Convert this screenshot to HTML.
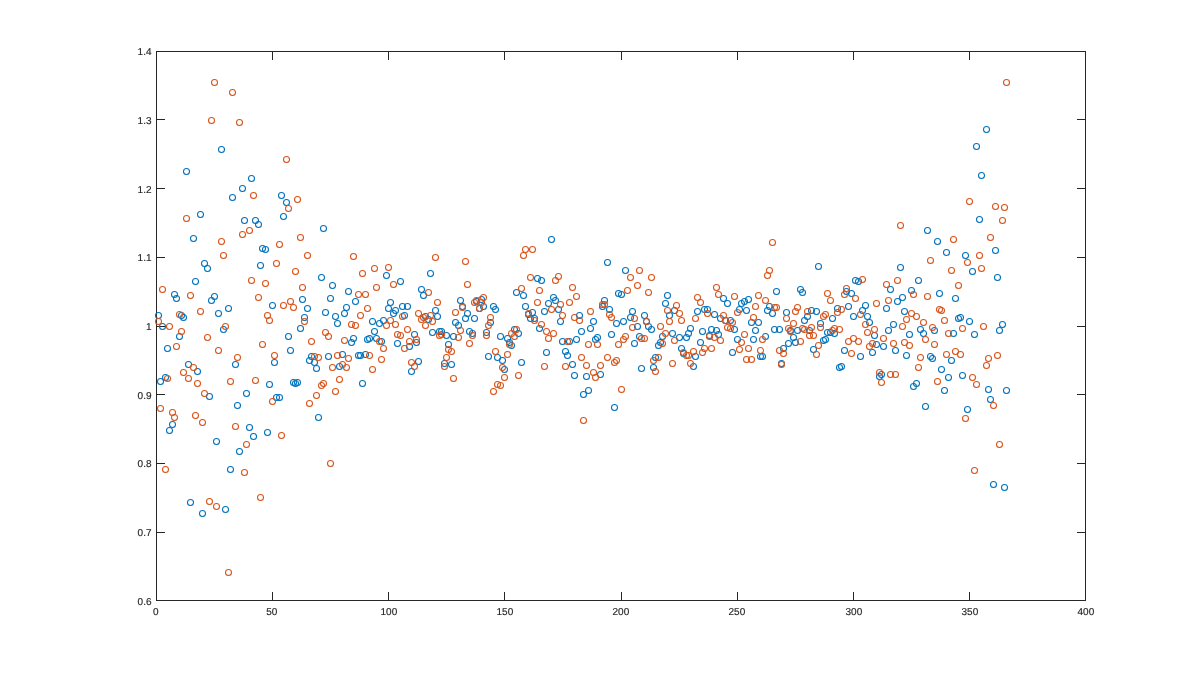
<!DOCTYPE html>
<html><head><meta charset="utf-8"><title>scatter</title>
<style>
html,body{margin:0;padding:0;background:#fff;}
body{width:1200px;height:675px;overflow:hidden;font-family:"Liberation Sans",sans-serif;}
svg{display:block}
.ax{stroke:#262626;stroke-width:1;fill:none;shape-rendering:crispEdges}
.t{font-family:"Liberation Sans",sans-serif;font-size:10px;fill:#262626;stroke:#262626;stroke-width:0.15px;text-rendering:geometricPrecision}
.b{stroke:#0072BD;stroke-width:1.05;fill:none}
.o{stroke:#D95319;stroke-width:1.05;fill:none}
</style></head><body>
<svg width="1200" height="675" viewBox="0 0 1200 675">
<rect x="0" y="0" width="1200" height="675" fill="#fff"/>
<rect class="ax" x="156.5" y="51.5" width="929" height="549"/>
<text class="t" transform="translate(155.7,615)" text-anchor="middle">0</text>
<text class="t" transform="translate(271.7,615)" text-anchor="middle">50</text>
<text class="t" transform="translate(388.9,615)" text-anchor="middle">100</text>
<text class="t" transform="translate(504.9,615)" text-anchor="middle">150</text>
<text class="t" transform="translate(620.9,615)" text-anchor="middle">200</text>
<text class="t" transform="translate(736.9,615)" text-anchor="middle">250</text>
<text class="t" transform="translate(853.9,615)" text-anchor="middle">300</text>
<text class="t" transform="translate(969.9,615)" text-anchor="middle">350</text>
<text class="t" transform="translate(1085.9,615)" text-anchor="middle">400</text>
<text class="t" transform="translate(151.5,605.0)" text-anchor="end">0.6</text>
<text class="t" transform="translate(151.5,536.0)" text-anchor="end">0.7</text>
<text class="t" transform="translate(151.5,467.0)" text-anchor="end">0.8</text>
<text class="t" transform="translate(151.5,399.0)" text-anchor="end">0.9</text>
<text class="t" transform="translate(151.5,330.0)" text-anchor="end">1</text>
<text class="t" transform="translate(151.5,261.0)" text-anchor="end">1.1</text>
<text class="t" transform="translate(151.5,193.0)" text-anchor="end">1.2</text>
<text class="t" transform="translate(151.5,124.0)" text-anchor="end">1.3</text>
<text class="t" transform="translate(151.5,55.0)" text-anchor="end">1.4</text>
<path class="ax" d="M272.5 600.5v-8.5M272.5 51.5v8.5M388.5 600.5v-8.5M388.5 51.5v8.5M504.5 600.5v-8.5M504.5 51.5v8.5M621.5 600.5v-8.5M621.5 51.5v8.5M737.5 600.5v-8.5M737.5 51.5v8.5M853.5 600.5v-8.5M853.5 51.5v8.5M969.5 600.5v-8.5M969.5 51.5v8.5M156.5 532.5h8.5M1085.5 532.5h-8.5M156.5 463.5h8.5M1085.5 463.5h-8.5M156.5 394.5h8.5M1085.5 394.5h-8.5M156.5 326.5h8.5M1085.5 326.5h-8.5M156.5 257.5h8.5M1085.5 257.5h-8.5M156.5 188.5h8.5M1085.5 188.5h-8.5M156.5 119.5h8.5M1085.5 119.5h-8.5"/>
<g class="b">
<circle cx="221.50" cy="149.5" r="3.0"/><circle cx="186.50" cy="171.5" r="3.0"/><circle cx="251.50" cy="178.5" r="3.0"/><circle cx="242.50" cy="188.5" r="3.0"/><circle cx="232.50" cy="197.5" r="3.0"/><circle cx="281.50" cy="195.5" r="3.0"/><circle cx="286.50" cy="202.5" r="3.0"/><circle cx="200.50" cy="214.5" r="3.0"/><circle cx="283.50" cy="216.5" r="3.0"/><circle cx="244.50" cy="220.5" r="3.0"/><circle cx="255.50" cy="220.5" r="3.0"/><circle cx="258.50" cy="224.5" r="3.0"/><circle cx="193.50" cy="238.5" r="3.0"/><circle cx="262.50" cy="248.5" r="3.0"/><circle cx="265.50" cy="249.5" r="3.0"/><circle cx="204.50" cy="263.5" r="3.0"/><circle cx="207.50" cy="268.5" r="3.0"/><circle cx="260.50" cy="265.5" r="3.0"/><circle cx="195.50" cy="281.5" r="3.0"/><circle cx="174.50" cy="294.5" r="3.0"/><circle cx="176.50" cy="298.5" r="3.0"/><circle cx="214.50" cy="296.5" r="3.0"/><circle cx="211.50" cy="300.5" r="3.0"/><circle cx="228.50" cy="308.5" r="3.0"/><circle cx="218.50" cy="313.5" r="3.0"/><circle cx="181.50" cy="315.5" r="3.0"/><circle cx="183.50" cy="317.5" r="3.0"/><circle cx="158.50" cy="315.5" r="3.0"/><circle cx="162.50" cy="326.5" r="3.0"/><circle cx="179.50" cy="336.5" r="3.0"/><circle cx="223.50" cy="329.5" r="3.0"/><circle cx="272.50" cy="305.5" r="3.0"/><circle cx="302.50" cy="299.5" r="3.0"/><circle cx="307.50" cy="308.5" r="3.0"/><circle cx="304.50" cy="317.5" r="3.0"/><circle cx="300.50" cy="328.5" r="3.0"/><circle cx="288.50" cy="336.5" r="3.0"/><circle cx="167.50" cy="348.5" r="3.0"/><circle cx="235.50" cy="364.5" r="3.0"/><circle cx="274.50" cy="362.5" r="3.0"/><circle cx="290.50" cy="350.5" r="3.0"/><circle cx="188.50" cy="364.5" r="3.0"/><circle cx="197.50" cy="371.5" r="3.0"/><circle cx="165.50" cy="377.5" r="3.0"/><circle cx="160.50" cy="381.5" r="3.0"/><circle cx="269.50" cy="384.5" r="3.0"/><circle cx="293.50" cy="382.5" r="3.0"/><circle cx="295.50" cy="383.5" r="3.0"/><circle cx="297.50" cy="382.5" r="3.0"/><circle cx="209.50" cy="396.5" r="3.0"/><circle cx="246.50" cy="393.5" r="3.0"/><circle cx="276.50" cy="397.5" r="3.0"/><circle cx="279.50" cy="397.5" r="3.0"/><circle cx="237.50" cy="405.5" r="3.0"/><circle cx="172.50" cy="424.5" r="3.0"/><circle cx="169.50" cy="430.5" r="3.0"/><circle cx="249.50" cy="427.5" r="3.0"/><circle cx="267.50" cy="432.5" r="3.0"/><circle cx="253.50" cy="436.5" r="3.0"/><circle cx="216.50" cy="441.5" r="3.0"/><circle cx="239.50" cy="451.5" r="3.0"/><circle cx="230.50" cy="469.5" r="3.0"/><circle cx="190.50" cy="502.5" r="3.0"/><circle cx="225.50" cy="509.5" r="3.0"/><circle cx="202.50" cy="513.5" r="3.0"/><circle cx="323.50" cy="228.5" r="3.0"/><circle cx="386.50" cy="275.5" r="3.0"/><circle cx="430.50" cy="273.5" r="3.0"/><circle cx="321.50" cy="277.5" r="3.0"/><circle cx="400.50" cy="281.5" r="3.0"/><circle cx="332.50" cy="285.5" r="3.0"/><circle cx="348.50" cy="291.5" r="3.0"/><circle cx="421.50" cy="289.5" r="3.0"/><circle cx="423.50" cy="295.5" r="3.0"/><circle cx="330.50" cy="298.5" r="3.0"/><circle cx="355.50" cy="301.5" r="3.0"/><circle cx="390.50" cy="302.5" r="3.0"/><circle cx="325.50" cy="312.5" r="3.0"/><circle cx="346.50" cy="307.5" r="3.0"/><circle cx="344.50" cy="313.5" r="3.0"/><circle cx="388.50" cy="308.5" r="3.0"/><circle cx="395.50" cy="310.5" r="3.0"/><circle cx="393.50" cy="313.5" r="3.0"/><circle cx="402.50" cy="306.5" r="3.0"/><circle cx="407.50" cy="306.5" r="3.0"/><circle cx="404.50" cy="315.5" r="3.0"/><circle cx="435.50" cy="310.5" r="3.0"/><circle cx="437.50" cy="316.5" r="3.0"/><circle cx="335.50" cy="316.5" r="3.0"/><circle cx="337.50" cy="323.5" r="3.0"/><circle cx="372.50" cy="321.5" r="3.0"/><circle cx="379.50" cy="323.5" r="3.0"/><circle cx="383.50" cy="320.5" r="3.0"/><circle cx="425.50" cy="316.5" r="3.0"/><circle cx="428.50" cy="319.5" r="3.0"/><circle cx="455.50" cy="322.5" r="3.0"/><circle cx="458.50" cy="325.5" r="3.0"/><circle cx="353.50" cy="338.5" r="3.0"/><circle cx="351.50" cy="342.5" r="3.0"/><circle cx="374.50" cy="331.5" r="3.0"/><circle cx="367.50" cy="339.5" r="3.0"/><circle cx="369.50" cy="338.5" r="3.0"/><circle cx="376.50" cy="338.5" r="3.0"/><circle cx="381.50" cy="341.5" r="3.0"/><circle cx="414.50" cy="334.5" r="3.0"/><circle cx="416.50" cy="342.5" r="3.0"/><circle cx="397.50" cy="343.5" r="3.0"/><circle cx="409.50" cy="346.5" r="3.0"/><circle cx="432.50" cy="332.5" r="3.0"/><circle cx="439.50" cy="331.5" r="3.0"/><circle cx="441.50" cy="331.5" r="3.0"/><circle cx="446.50" cy="335.5" r="3.0"/><circle cx="453.50" cy="336.5" r="3.0"/><circle cx="448.50" cy="344.5" r="3.0"/><circle cx="311.50" cy="356.5" r="3.0"/><circle cx="309.50" cy="360.5" r="3.0"/><circle cx="314.50" cy="362.5" r="3.0"/><circle cx="316.50" cy="368.5" r="3.0"/><circle cx="328.50" cy="356.5" r="3.0"/><circle cx="342.50" cy="354.5" r="3.0"/><circle cx="339.50" cy="366.5" r="3.0"/><circle cx="358.50" cy="355.5" r="3.0"/><circle cx="360.50" cy="355.5" r="3.0"/><circle cx="365.50" cy="354.5" r="3.0"/><circle cx="418.50" cy="361.5" r="3.0"/><circle cx="411.50" cy="371.5" r="3.0"/><circle cx="444.50" cy="363.5" r="3.0"/><circle cx="451.50" cy="364.5" r="3.0"/><circle cx="362.50" cy="383.5" r="3.0"/><circle cx="318.50" cy="417.5" r="3.0"/><circle cx="551.50" cy="239.5" r="3.0"/><circle cx="607.50" cy="262.5" r="3.0"/><circle cx="537.50" cy="278.5" r="3.0"/><circle cx="541.50" cy="280.5" r="3.0"/><circle cx="516.50" cy="292.5" r="3.0"/><circle cx="523.50" cy="295.5" r="3.0"/><circle cx="553.50" cy="297.5" r="3.0"/><circle cx="460.50" cy="300.5" r="3.0"/><circle cx="462.50" cy="306.5" r="3.0"/><circle cx="467.50" cy="313.5" r="3.0"/><circle cx="465.50" cy="318.5" r="3.0"/><circle cx="474.50" cy="318.5" r="3.0"/><circle cx="469.50" cy="331.5" r="3.0"/><circle cx="472.50" cy="333.5" r="3.0"/><circle cx="490.50" cy="322.5" r="3.0"/><circle cx="486.50" cy="332.5" r="3.0"/><circle cx="500.50" cy="336.5" r="3.0"/><circle cx="507.50" cy="338.5" r="3.0"/><circle cx="514.50" cy="329.5" r="3.0"/><circle cx="518.50" cy="333.5" r="3.0"/><circle cx="525.50" cy="306.5" r="3.0"/><circle cx="528.50" cy="314.5" r="3.0"/><circle cx="532.50" cy="312.5" r="3.0"/><circle cx="530.50" cy="318.5" r="3.0"/><circle cx="534.50" cy="318.5" r="3.0"/><circle cx="539.50" cy="328.5" r="3.0"/><circle cx="479.50" cy="308.5" r="3.0"/><circle cx="483.50" cy="306.5" r="3.0"/><circle cx="476.50" cy="301.5" r="3.0"/><circle cx="481.50" cy="299.5" r="3.0"/><circle cx="493.50" cy="306.5" r="3.0"/><circle cx="495.50" cy="309.5" r="3.0"/><circle cx="555.50" cy="300.5" r="3.0"/><circle cx="548.50" cy="303.5" r="3.0"/><circle cx="544.50" cy="311.5" r="3.0"/><circle cx="558.50" cy="309.5" r="3.0"/><circle cx="560.50" cy="321.5" r="3.0"/><circle cx="579.50" cy="315.5" r="3.0"/><circle cx="593.50" cy="321.5" r="3.0"/><circle cx="590.50" cy="328.5" r="3.0"/><circle cx="581.50" cy="331.5" r="3.0"/><circle cx="604.50" cy="300.5" r="3.0"/><circle cx="602.50" cy="306.5" r="3.0"/><circle cx="609.50" cy="309.5" r="3.0"/><circle cx="611.50" cy="334.5" r="3.0"/><circle cx="562.50" cy="341.5" r="3.0"/><circle cx="569.50" cy="341.5" r="3.0"/><circle cx="576.50" cy="339.5" r="3.0"/><circle cx="597.50" cy="337.5" r="3.0"/><circle cx="595.50" cy="339.5" r="3.0"/><circle cx="488.50" cy="356.5" r="3.0"/><circle cx="497.50" cy="357.5" r="3.0"/><circle cx="502.50" cy="360.5" r="3.0"/><circle cx="504.50" cy="369.5" r="3.0"/><circle cx="521.50" cy="362.5" r="3.0"/><circle cx="509.50" cy="342.5" r="3.0"/><circle cx="511.50" cy="345.5" r="3.0"/><circle cx="546.50" cy="352.5" r="3.0"/><circle cx="565.50" cy="351.5" r="3.0"/><circle cx="567.50" cy="355.5" r="3.0"/><circle cx="572.50" cy="364.5" r="3.0"/><circle cx="574.50" cy="375.5" r="3.0"/><circle cx="586.50" cy="376.5" r="3.0"/><circle cx="600.50" cy="374.5" r="3.0"/><circle cx="588.50" cy="390.5" r="3.0"/><circle cx="583.50" cy="394.5" r="3.0"/><circle cx="625.50" cy="270.5" r="3.0"/><circle cx="618.50" cy="293.5" r="3.0"/><circle cx="621.50" cy="294.5" r="3.0"/><circle cx="667.50" cy="295.5" r="3.0"/><circle cx="723.50" cy="298.5" r="3.0"/><circle cx="748.50" cy="299.5" r="3.0"/><circle cx="727.50" cy="303.5" r="3.0"/><circle cx="744.50" cy="301.5" r="3.0"/><circle cx="741.50" cy="303.5" r="3.0"/><circle cx="665.50" cy="303.5" r="3.0"/><circle cx="674.50" cy="310.5" r="3.0"/><circle cx="669.50" cy="315.5" r="3.0"/><circle cx="632.50" cy="311.5" r="3.0"/><circle cx="630.50" cy="317.5" r="3.0"/><circle cx="623.50" cy="321.5" r="3.0"/><circle cx="616.50" cy="323.5" r="3.0"/><circle cx="644.50" cy="315.5" r="3.0"/><circle cx="646.50" cy="321.5" r="3.0"/><circle cx="648.50" cy="326.5" r="3.0"/><circle cx="651.50" cy="329.5" r="3.0"/><circle cx="637.50" cy="326.5" r="3.0"/><circle cx="697.50" cy="311.5" r="3.0"/><circle cx="704.50" cy="309.5" r="3.0"/><circle cx="707.50" cy="309.5" r="3.0"/><circle cx="714.50" cy="314.5" r="3.0"/><circle cx="720.50" cy="318.5" r="3.0"/><circle cx="725.50" cy="320.5" r="3.0"/><circle cx="730.50" cy="320.5" r="3.0"/><circle cx="739.50" cy="309.5" r="3.0"/><circle cx="746.50" cy="310.5" r="3.0"/><circle cx="751.50" cy="322.5" r="3.0"/><circle cx="758.50" cy="322.5" r="3.0"/><circle cx="639.50" cy="336.5" r="3.0"/><circle cx="634.50" cy="343.5" r="3.0"/><circle cx="662.50" cy="336.5" r="3.0"/><circle cx="672.50" cy="333.5" r="3.0"/><circle cx="679.50" cy="337.5" r="3.0"/><circle cx="660.50" cy="342.5" r="3.0"/><circle cx="658.50" cy="345.5" r="3.0"/><circle cx="690.50" cy="328.5" r="3.0"/><circle cx="688.50" cy="333.5" r="3.0"/><circle cx="686.50" cy="337.5" r="3.0"/><circle cx="702.50" cy="331.5" r="3.0"/><circle cx="700.50" cy="342.5" r="3.0"/><circle cx="711.50" cy="329.5" r="3.0"/><circle cx="716.50" cy="330.5" r="3.0"/><circle cx="718.50" cy="334.5" r="3.0"/><circle cx="709.50" cy="335.5" r="3.0"/><circle cx="734.50" cy="329.5" r="3.0"/><circle cx="737.50" cy="339.5" r="3.0"/><circle cx="755.50" cy="330.5" r="3.0"/><circle cx="753.50" cy="339.5" r="3.0"/><circle cx="655.50" cy="357.5" r="3.0"/><circle cx="653.50" cy="367.5" r="3.0"/><circle cx="641.50" cy="368.5" r="3.0"/><circle cx="681.50" cy="348.5" r="3.0"/><circle cx="683.50" cy="353.5" r="3.0"/><circle cx="695.50" cy="356.5" r="3.0"/><circle cx="693.50" cy="366.5" r="3.0"/><circle cx="732.50" cy="352.5" r="3.0"/><circle cx="760.50" cy="356.5" r="3.0"/><circle cx="762.50" cy="356.5" r="3.0"/><circle cx="614.50" cy="407.5" r="3.0"/><circle cx="818.50" cy="266.5" r="3.0"/><circle cx="900.50" cy="267.5" r="3.0"/><circle cx="776.50" cy="291.5" r="3.0"/><circle cx="800.50" cy="289.5" r="3.0"/><circle cx="802.50" cy="292.5" r="3.0"/><circle cx="855.50" cy="280.5" r="3.0"/><circle cx="858.50" cy="281.5" r="3.0"/><circle cx="846.50" cy="291.5" r="3.0"/><circle cx="851.50" cy="293.5" r="3.0"/><circle cx="890.50" cy="289.5" r="3.0"/><circle cx="911.50" cy="290.5" r="3.0"/><circle cx="902.50" cy="297.5" r="3.0"/><circle cx="897.50" cy="301.5" r="3.0"/><circle cx="769.50" cy="306.5" r="3.0"/><circle cx="767.50" cy="310.5" r="3.0"/><circle cx="772.50" cy="313.5" r="3.0"/><circle cx="786.50" cy="312.5" r="3.0"/><circle cx="811.50" cy="310.5" r="3.0"/><circle cx="816.50" cy="311.5" r="3.0"/><circle cx="807.50" cy="316.5" r="3.0"/><circle cx="804.50" cy="320.5" r="3.0"/><circle cx="832.50" cy="318.5" r="3.0"/><circle cx="820.50" cy="323.5" r="3.0"/><circle cx="837.50" cy="308.5" r="3.0"/><circle cx="848.50" cy="306.5" r="3.0"/><circle cx="853.50" cy="316.5" r="3.0"/><circle cx="865.50" cy="305.5" r="3.0"/><circle cx="862.50" cy="310.5" r="3.0"/><circle cx="867.50" cy="316.5" r="3.0"/><circle cx="869.50" cy="322.5" r="3.0"/><circle cx="886.50" cy="308.5" r="3.0"/><circle cx="904.50" cy="311.5" r="3.0"/><circle cx="893.50" cy="324.5" r="3.0"/><circle cx="774.50" cy="329.5" r="3.0"/><circle cx="779.50" cy="329.5" r="3.0"/><circle cx="790.50" cy="330.5" r="3.0"/><circle cx="797.50" cy="330.5" r="3.0"/><circle cx="793.50" cy="337.5" r="3.0"/><circle cx="795.50" cy="342.5" r="3.0"/><circle cx="788.50" cy="343.5" r="3.0"/><circle cx="809.50" cy="330.5" r="3.0"/><circle cx="827.50" cy="332.5" r="3.0"/><circle cx="830.50" cy="332.5" r="3.0"/><circle cx="834.50" cy="333.5" r="3.0"/><circle cx="823.50" cy="340.5" r="3.0"/><circle cx="825.50" cy="339.5" r="3.0"/><circle cx="765.50" cy="336.5" r="3.0"/><circle cx="874.50" cy="335.5" r="3.0"/><circle cx="888.50" cy="330.5" r="3.0"/><circle cx="909.50" cy="334.5" r="3.0"/><circle cx="876.50" cy="344.5" r="3.0"/><circle cx="883.50" cy="346.5" r="3.0"/><circle cx="783.50" cy="348.5" r="3.0"/><circle cx="781.50" cy="363.5" r="3.0"/><circle cx="813.50" cy="349.5" r="3.0"/><circle cx="844.50" cy="350.5" r="3.0"/><circle cx="860.50" cy="356.5" r="3.0"/><circle cx="872.50" cy="352.5" r="3.0"/><circle cx="895.50" cy="350.5" r="3.0"/><circle cx="906.50" cy="355.5" r="3.0"/><circle cx="839.50" cy="367.5" r="3.0"/><circle cx="841.50" cy="366.5" r="3.0"/><circle cx="881.50" cy="374.5" r="3.0"/><circle cx="879.50" cy="376.5" r="3.0"/><circle cx="986.50" cy="129.5" r="3.0"/><circle cx="976.50" cy="146.5" r="3.0"/><circle cx="981.50" cy="175.5" r="3.0"/><circle cx="979.50" cy="219.5" r="3.0"/><circle cx="927.50" cy="230.5" r="3.0"/><circle cx="937.50" cy="241.5" r="3.0"/><circle cx="946.50" cy="252.5" r="3.0"/><circle cx="965.50" cy="255.5" r="3.0"/><circle cx="995.50" cy="250.5" r="3.0"/><circle cx="972.50" cy="271.5" r="3.0"/><circle cx="997.50" cy="277.5" r="3.0"/><circle cx="918.50" cy="280.5" r="3.0"/><circle cx="939.50" cy="293.5" r="3.0"/><circle cx="955.50" cy="298.5" r="3.0"/><circle cx="958.50" cy="318.5" r="3.0"/><circle cx="960.50" cy="317.5" r="3.0"/><circle cx="969.50" cy="321.5" r="3.0"/><circle cx="934.50" cy="330.5" r="3.0"/><circle cx="920.50" cy="329.5" r="3.0"/><circle cx="923.50" cy="333.5" r="3.0"/><circle cx="953.50" cy="333.5" r="3.0"/><circle cx="1002.50" cy="324.5" r="3.0"/><circle cx="999.50" cy="330.5" r="3.0"/><circle cx="974.50" cy="334.5" r="3.0"/><circle cx="930.50" cy="356.5" r="3.0"/><circle cx="932.50" cy="358.5" r="3.0"/><circle cx="951.50" cy="360.5" r="3.0"/><circle cx="941.50" cy="369.5" r="3.0"/><circle cx="962.50" cy="375.5" r="3.0"/><circle cx="948.50" cy="377.5" r="3.0"/><circle cx="916.50" cy="383.5" r="3.0"/><circle cx="913.50" cy="386.5" r="3.0"/><circle cx="944.50" cy="390.5" r="3.0"/><circle cx="988.50" cy="389.5" r="3.0"/><circle cx="1006.50" cy="390.5" r="3.0"/><circle cx="990.50" cy="399.5" r="3.0"/><circle cx="925.50" cy="406.5" r="3.0"/><circle cx="967.50" cy="409.5" r="3.0"/><circle cx="993.50" cy="484.5" r="3.0"/><circle cx="1004.50" cy="487.5" r="3.0"/>
</g>
<g class="o">
<circle cx="214.50" cy="82.5" r="3.0"/><circle cx="232.50" cy="92.5" r="3.0"/><circle cx="211.50" cy="120.5" r="3.0"/><circle cx="239.50" cy="122.5" r="3.0"/><circle cx="286.50" cy="159.5" r="3.0"/><circle cx="253.50" cy="195.5" r="3.0"/><circle cx="297.50" cy="199.5" r="3.0"/><circle cx="288.50" cy="208.5" r="3.0"/><circle cx="186.50" cy="218.5" r="3.0"/><circle cx="249.50" cy="230.5" r="3.0"/><circle cx="242.50" cy="234.5" r="3.0"/><circle cx="221.50" cy="241.5" r="3.0"/><circle cx="300.50" cy="237.5" r="3.0"/><circle cx="279.50" cy="244.5" r="3.0"/><circle cx="223.50" cy="255.5" r="3.0"/><circle cx="307.50" cy="255.5" r="3.0"/><circle cx="276.50" cy="263.5" r="3.0"/><circle cx="295.50" cy="271.5" r="3.0"/><circle cx="251.50" cy="280.5" r="3.0"/><circle cx="265.50" cy="283.5" r="3.0"/><circle cx="302.50" cy="287.5" r="3.0"/><circle cx="162.50" cy="289.5" r="3.0"/><circle cx="190.50" cy="295.5" r="3.0"/><circle cx="258.50" cy="297.5" r="3.0"/><circle cx="200.50" cy="311.5" r="3.0"/><circle cx="179.50" cy="314.5" r="3.0"/><circle cx="158.50" cy="321.5" r="3.0"/><circle cx="169.50" cy="326.5" r="3.0"/><circle cx="181.50" cy="331.5" r="3.0"/><circle cx="207.50" cy="337.5" r="3.0"/><circle cx="225.50" cy="326.5" r="3.0"/><circle cx="283.50" cy="305.5" r="3.0"/><circle cx="290.50" cy="301.5" r="3.0"/><circle cx="293.50" cy="307.5" r="3.0"/><circle cx="267.50" cy="315.5" r="3.0"/><circle cx="269.50" cy="320.5" r="3.0"/><circle cx="304.50" cy="321.5" r="3.0"/><circle cx="262.50" cy="344.5" r="3.0"/><circle cx="176.50" cy="346.5" r="3.0"/><circle cx="218.50" cy="350.5" r="3.0"/><circle cx="237.50" cy="357.5" r="3.0"/><circle cx="274.50" cy="355.5" r="3.0"/><circle cx="193.50" cy="367.5" r="3.0"/><circle cx="183.50" cy="372.5" r="3.0"/><circle cx="188.50" cy="378.5" r="3.0"/><circle cx="167.50" cy="378.5" r="3.0"/><circle cx="255.50" cy="380.5" r="3.0"/><circle cx="197.50" cy="383.5" r="3.0"/><circle cx="230.50" cy="381.5" r="3.0"/><circle cx="204.50" cy="393.5" r="3.0"/><circle cx="272.50" cy="401.5" r="3.0"/><circle cx="160.50" cy="408.5" r="3.0"/><circle cx="172.50" cy="412.5" r="3.0"/><circle cx="174.50" cy="417.5" r="3.0"/><circle cx="195.50" cy="415.5" r="3.0"/><circle cx="202.50" cy="422.5" r="3.0"/><circle cx="235.50" cy="426.5" r="3.0"/><circle cx="281.50" cy="435.5" r="3.0"/><circle cx="246.50" cy="444.5" r="3.0"/><circle cx="165.50" cy="469.5" r="3.0"/><circle cx="244.50" cy="472.5" r="3.0"/><circle cx="260.50" cy="497.5" r="3.0"/><circle cx="209.50" cy="501.5" r="3.0"/><circle cx="216.50" cy="506.5" r="3.0"/><circle cx="228.50" cy="572.5" r="3.0"/><circle cx="353.50" cy="256.5" r="3.0"/><circle cx="435.50" cy="257.5" r="3.0"/><circle cx="374.50" cy="268.5" r="3.0"/><circle cx="388.50" cy="267.5" r="3.0"/><circle cx="362.50" cy="273.5" r="3.0"/><circle cx="393.50" cy="284.5" r="3.0"/><circle cx="376.50" cy="287.5" r="3.0"/><circle cx="358.50" cy="294.5" r="3.0"/><circle cx="365.50" cy="294.5" r="3.0"/><circle cx="428.50" cy="292.5" r="3.0"/><circle cx="437.50" cy="302.5" r="3.0"/><circle cx="367.50" cy="308.5" r="3.0"/><circle cx="402.50" cy="316.5" r="3.0"/><circle cx="418.50" cy="313.5" r="3.0"/><circle cx="455.50" cy="312.5" r="3.0"/><circle cx="360.50" cy="315.5" r="3.0"/><circle cx="351.50" cy="324.5" r="3.0"/><circle cx="355.50" cy="325.5" r="3.0"/><circle cx="390.50" cy="320.5" r="3.0"/><circle cx="386.50" cy="325.5" r="3.0"/><circle cx="395.50" cy="324.5" r="3.0"/><circle cx="421.50" cy="319.5" r="3.0"/><circle cx="423.50" cy="317.5" r="3.0"/><circle cx="430.50" cy="315.5" r="3.0"/><circle cx="432.50" cy="321.5" r="3.0"/><circle cx="425.50" cy="325.5" r="3.0"/><circle cx="325.50" cy="332.5" r="3.0"/><circle cx="328.50" cy="336.5" r="3.0"/><circle cx="311.50" cy="341.5" r="3.0"/><circle cx="344.50" cy="340.5" r="3.0"/><circle cx="379.50" cy="341.5" r="3.0"/><circle cx="383.50" cy="348.5" r="3.0"/><circle cx="407.50" cy="329.5" r="3.0"/><circle cx="397.50" cy="334.5" r="3.0"/><circle cx="400.50" cy="335.5" r="3.0"/><circle cx="416.50" cy="339.5" r="3.0"/><circle cx="409.50" cy="341.5" r="3.0"/><circle cx="404.50" cy="348.5" r="3.0"/><circle cx="439.50" cy="335.5" r="3.0"/><circle cx="441.50" cy="334.5" r="3.0"/><circle cx="458.50" cy="337.5" r="3.0"/><circle cx="448.50" cy="349.5" r="3.0"/><circle cx="451.50" cy="351.5" r="3.0"/><circle cx="314.50" cy="356.5" r="3.0"/><circle cx="318.50" cy="357.5" r="3.0"/><circle cx="337.50" cy="355.5" r="3.0"/><circle cx="348.50" cy="358.5" r="3.0"/><circle cx="332.50" cy="367.5" r="3.0"/><circle cx="342.50" cy="364.5" r="3.0"/><circle cx="346.50" cy="367.5" r="3.0"/><circle cx="369.50" cy="355.5" r="3.0"/><circle cx="381.50" cy="359.5" r="3.0"/><circle cx="372.50" cy="369.5" r="3.0"/><circle cx="411.50" cy="362.5" r="3.0"/><circle cx="414.50" cy="366.5" r="3.0"/><circle cx="446.50" cy="357.5" r="3.0"/><circle cx="444.50" cy="366.5" r="3.0"/><circle cx="339.50" cy="379.5" r="3.0"/><circle cx="453.50" cy="378.5" r="3.0"/><circle cx="323.50" cy="383.5" r="3.0"/><circle cx="321.50" cy="385.5" r="3.0"/><circle cx="335.50" cy="391.5" r="3.0"/><circle cx="316.50" cy="395.5" r="3.0"/><circle cx="309.50" cy="403.5" r="3.0"/><circle cx="330.50" cy="463.5" r="3.0"/><circle cx="525.50" cy="249.5" r="3.0"/><circle cx="532.50" cy="249.5" r="3.0"/><circle cx="523.50" cy="255.5" r="3.0"/><circle cx="465.50" cy="261.5" r="3.0"/><circle cx="530.50" cy="277.5" r="3.0"/><circle cx="558.50" cy="276.5" r="3.0"/><circle cx="555.50" cy="280.5" r="3.0"/><circle cx="467.50" cy="284.5" r="3.0"/><circle cx="572.50" cy="287.5" r="3.0"/><circle cx="521.50" cy="288.5" r="3.0"/><circle cx="539.50" cy="290.5" r="3.0"/><circle cx="576.50" cy="296.5" r="3.0"/><circle cx="483.50" cy="297.5" r="3.0"/><circle cx="462.50" cy="307.5" r="3.0"/><circle cx="460.50" cy="330.5" r="3.0"/><circle cx="472.50" cy="335.5" r="3.0"/><circle cx="490.50" cy="317.5" r="3.0"/><circle cx="488.50" cy="325.5" r="3.0"/><circle cx="486.50" cy="335.5" r="3.0"/><circle cx="516.50" cy="329.5" r="3.0"/><circle cx="511.50" cy="333.5" r="3.0"/><circle cx="514.50" cy="336.5" r="3.0"/><circle cx="537.50" cy="302.5" r="3.0"/><circle cx="528.50" cy="313.5" r="3.0"/><circle cx="534.50" cy="320.5" r="3.0"/><circle cx="541.50" cy="324.5" r="3.0"/><circle cx="476.50" cy="300.5" r="3.0"/><circle cx="474.50" cy="302.5" r="3.0"/><circle cx="481.50" cy="302.5" r="3.0"/><circle cx="479.50" cy="308.5" r="3.0"/><circle cx="560.50" cy="304.5" r="3.0"/><circle cx="569.50" cy="302.5" r="3.0"/><circle cx="551.50" cy="309.5" r="3.0"/><circle cx="562.50" cy="315.5" r="3.0"/><circle cx="574.50" cy="317.5" r="3.0"/><circle cx="579.50" cy="320.5" r="3.0"/><circle cx="590.50" cy="311.5" r="3.0"/><circle cx="602.50" cy="304.5" r="3.0"/><circle cx="609.50" cy="314.5" r="3.0"/><circle cx="611.50" cy="317.5" r="3.0"/><circle cx="546.50" cy="331.5" r="3.0"/><circle cx="553.50" cy="333.5" r="3.0"/><circle cx="548.50" cy="338.5" r="3.0"/><circle cx="567.50" cy="341.5" r="3.0"/><circle cx="588.50" cy="344.5" r="3.0"/><circle cx="597.50" cy="344.5" r="3.0"/><circle cx="469.50" cy="343.5" r="3.0"/><circle cx="495.50" cy="351.5" r="3.0"/><circle cx="507.50" cy="354.5" r="3.0"/><circle cx="502.50" cy="367.5" r="3.0"/><circle cx="518.50" cy="375.5" r="3.0"/><circle cx="509.50" cy="344.5" r="3.0"/><circle cx="544.50" cy="366.5" r="3.0"/><circle cx="565.50" cy="366.5" r="3.0"/><circle cx="581.50" cy="357.5" r="3.0"/><circle cx="586.50" cy="365.5" r="3.0"/><circle cx="593.50" cy="372.5" r="3.0"/><circle cx="600.50" cy="365.5" r="3.0"/><circle cx="607.50" cy="357.5" r="3.0"/><circle cx="504.50" cy="377.5" r="3.0"/><circle cx="497.50" cy="384.5" r="3.0"/><circle cx="500.50" cy="385.5" r="3.0"/><circle cx="493.50" cy="391.5" r="3.0"/><circle cx="595.50" cy="377.5" r="3.0"/><circle cx="583.50" cy="420.5" r="3.0"/><circle cx="639.50" cy="270.5" r="3.0"/><circle cx="630.50" cy="277.5" r="3.0"/><circle cx="651.50" cy="277.5" r="3.0"/><circle cx="637.50" cy="285.5" r="3.0"/><circle cx="627.50" cy="290.5" r="3.0"/><circle cx="648.50" cy="292.5" r="3.0"/><circle cx="716.50" cy="287.5" r="3.0"/><circle cx="718.50" cy="294.5" r="3.0"/><circle cx="697.50" cy="297.5" r="3.0"/><circle cx="734.50" cy="296.5" r="3.0"/><circle cx="758.50" cy="295.5" r="3.0"/><circle cx="700.50" cy="302.5" r="3.0"/><circle cx="676.50" cy="305.5" r="3.0"/><circle cx="667.50" cy="310.5" r="3.0"/><circle cx="679.50" cy="313.5" r="3.0"/><circle cx="669.50" cy="321.5" r="3.0"/><circle cx="681.50" cy="320.5" r="3.0"/><circle cx="634.50" cy="318.5" r="3.0"/><circle cx="646.50" cy="321.5" r="3.0"/><circle cx="632.50" cy="327.5" r="3.0"/><circle cx="660.50" cy="326.5" r="3.0"/><circle cx="695.50" cy="318.5" r="3.0"/><circle cx="707.50" cy="313.5" r="3.0"/><circle cx="723.50" cy="315.5" r="3.0"/><circle cx="725.50" cy="320.5" r="3.0"/><circle cx="732.50" cy="322.5" r="3.0"/><circle cx="737.50" cy="312.5" r="3.0"/><circle cx="755.50" cy="306.5" r="3.0"/><circle cx="753.50" cy="317.5" r="3.0"/><circle cx="625.50" cy="336.5" r="3.0"/><circle cx="623.50" cy="339.5" r="3.0"/><circle cx="618.50" cy="344.5" r="3.0"/><circle cx="641.50" cy="338.5" r="3.0"/><circle cx="644.50" cy="338.5" r="3.0"/><circle cx="665.50" cy="333.5" r="3.0"/><circle cx="674.50" cy="340.5" r="3.0"/><circle cx="662.50" cy="343.5" r="3.0"/><circle cx="709.50" cy="336.5" r="3.0"/><circle cx="714.50" cy="337.5" r="3.0"/><circle cx="720.50" cy="340.5" r="3.0"/><circle cx="727.50" cy="327.5" r="3.0"/><circle cx="730.50" cy="328.5" r="3.0"/><circle cx="744.50" cy="334.5" r="3.0"/><circle cx="741.50" cy="342.5" r="3.0"/><circle cx="762.50" cy="339.5" r="3.0"/><circle cx="616.50" cy="360.5" r="3.0"/><circle cx="614.50" cy="362.5" r="3.0"/><circle cx="658.50" cy="357.5" r="3.0"/><circle cx="653.50" cy="360.5" r="3.0"/><circle cx="655.50" cy="371.5" r="3.0"/><circle cx="672.50" cy="363.5" r="3.0"/><circle cx="683.50" cy="352.5" r="3.0"/><circle cx="688.50" cy="355.5" r="3.0"/><circle cx="693.50" cy="351.5" r="3.0"/><circle cx="690.50" cy="363.5" r="3.0"/><circle cx="704.50" cy="348.5" r="3.0"/><circle cx="702.50" cy="352.5" r="3.0"/><circle cx="711.50" cy="348.5" r="3.0"/><circle cx="739.50" cy="349.5" r="3.0"/><circle cx="748.50" cy="348.5" r="3.0"/><circle cx="760.50" cy="350.5" r="3.0"/><circle cx="746.50" cy="359.5" r="3.0"/><circle cx="751.50" cy="359.5" r="3.0"/><circle cx="621.50" cy="389.5" r="3.0"/><circle cx="900.50" cy="225.5" r="3.0"/><circle cx="772.50" cy="242.5" r="3.0"/><circle cx="769.50" cy="270.5" r="3.0"/><circle cx="767.50" cy="275.5" r="3.0"/><circle cx="827.50" cy="293.5" r="3.0"/><circle cx="862.50" cy="279.5" r="3.0"/><circle cx="846.50" cy="288.5" r="3.0"/><circle cx="844.50" cy="294.5" r="3.0"/><circle cx="855.50" cy="298.5" r="3.0"/><circle cx="886.50" cy="284.5" r="3.0"/><circle cx="897.50" cy="280.5" r="3.0"/><circle cx="913.50" cy="294.5" r="3.0"/><circle cx="830.50" cy="300.5" r="3.0"/><circle cx="888.50" cy="300.5" r="3.0"/><circle cx="876.50" cy="303.5" r="3.0"/><circle cx="765.50" cy="300.5" r="3.0"/><circle cx="774.50" cy="307.5" r="3.0"/><circle cx="776.50" cy="307.5" r="3.0"/><circle cx="786.50" cy="318.5" r="3.0"/><circle cx="797.50" cy="307.5" r="3.0"/><circle cx="795.50" cy="311.5" r="3.0"/><circle cx="793.50" cy="323.5" r="3.0"/><circle cx="807.50" cy="311.5" r="3.0"/><circle cx="825.50" cy="314.5" r="3.0"/><circle cx="823.50" cy="316.5" r="3.0"/><circle cx="841.50" cy="309.5" r="3.0"/><circle cx="837.50" cy="312.5" r="3.0"/><circle cx="860.50" cy="314.5" r="3.0"/><circle cx="865.50" cy="324.5" r="3.0"/><circle cx="911.50" cy="313.5" r="3.0"/><circle cx="906.50" cy="319.5" r="3.0"/><circle cx="902.50" cy="326.5" r="3.0"/><circle cx="788.50" cy="328.5" r="3.0"/><circle cx="790.50" cy="331.5" r="3.0"/><circle cx="800.50" cy="341.5" r="3.0"/><circle cx="802.50" cy="328.5" r="3.0"/><circle cx="804.50" cy="329.5" r="3.0"/><circle cx="811.50" cy="327.5" r="3.0"/><circle cx="809.50" cy="335.5" r="3.0"/><circle cx="813.50" cy="335.5" r="3.0"/><circle cx="820.50" cy="327.5" r="3.0"/><circle cx="832.50" cy="330.5" r="3.0"/><circle cx="834.50" cy="328.5" r="3.0"/><circle cx="839.50" cy="329.5" r="3.0"/><circle cx="853.50" cy="338.5" r="3.0"/><circle cx="848.50" cy="341.5" r="3.0"/><circle cx="858.50" cy="341.5" r="3.0"/><circle cx="867.50" cy="332.5" r="3.0"/><circle cx="874.50" cy="329.5" r="3.0"/><circle cx="883.50" cy="338.5" r="3.0"/><circle cx="893.50" cy="343.5" r="3.0"/><circle cx="904.50" cy="342.5" r="3.0"/><circle cx="909.50" cy="345.5" r="3.0"/><circle cx="872.50" cy="343.5" r="3.0"/><circle cx="869.50" cy="346.5" r="3.0"/><circle cx="779.50" cy="350.5" r="3.0"/><circle cx="783.50" cy="353.5" r="3.0"/><circle cx="781.50" cy="364.5" r="3.0"/><circle cx="818.50" cy="345.5" r="3.0"/><circle cx="816.50" cy="354.5" r="3.0"/><circle cx="851.50" cy="353.5" r="3.0"/><circle cx="879.50" cy="372.5" r="3.0"/><circle cx="890.50" cy="374.5" r="3.0"/><circle cx="895.50" cy="374.5" r="3.0"/><circle cx="881.50" cy="382.5" r="3.0"/><circle cx="1006.50" cy="82.5" r="3.0"/><circle cx="969.50" cy="201.5" r="3.0"/><circle cx="995.50" cy="206.5" r="3.0"/><circle cx="1004.50" cy="207.5" r="3.0"/><circle cx="1002.50" cy="220.5" r="3.0"/><circle cx="953.50" cy="239.5" r="3.0"/><circle cx="990.50" cy="237.5" r="3.0"/><circle cx="979.50" cy="255.5" r="3.0"/><circle cx="930.50" cy="260.5" r="3.0"/><circle cx="967.50" cy="262.5" r="3.0"/><circle cx="951.50" cy="270.5" r="3.0"/><circle cx="981.50" cy="268.5" r="3.0"/><circle cx="958.50" cy="285.5" r="3.0"/><circle cx="927.50" cy="296.5" r="3.0"/><circle cx="939.50" cy="309.5" r="3.0"/><circle cx="941.50" cy="310.5" r="3.0"/><circle cx="916.50" cy="316.5" r="3.0"/><circle cx="923.50" cy="322.5" r="3.0"/><circle cx="944.50" cy="320.5" r="3.0"/><circle cx="932.50" cy="327.5" r="3.0"/><circle cx="948.50" cy="333.5" r="3.0"/><circle cx="962.50" cy="328.5" r="3.0"/><circle cx="983.50" cy="326.5" r="3.0"/><circle cx="925.50" cy="339.5" r="3.0"/><circle cx="934.50" cy="344.5" r="3.0"/><circle cx="955.50" cy="351.5" r="3.0"/><circle cx="960.50" cy="354.5" r="3.0"/><circle cx="946.50" cy="354.5" r="3.0"/><circle cx="920.50" cy="357.5" r="3.0"/><circle cx="918.50" cy="367.5" r="3.0"/><circle cx="997.50" cy="355.5" r="3.0"/><circle cx="988.50" cy="358.5" r="3.0"/><circle cx="986.50" cy="365.5" r="3.0"/><circle cx="972.50" cy="377.5" r="3.0"/><circle cx="937.50" cy="381.5" r="3.0"/><circle cx="976.50" cy="384.5" r="3.0"/><circle cx="993.50" cy="405.5" r="3.0"/><circle cx="965.50" cy="418.5" r="3.0"/><circle cx="999.50" cy="444.5" r="3.0"/><circle cx="974.50" cy="470.5" r="3.0"/><circle cx="604.50" cy="304.5" r="3.0"/><circle cx="686.50" cy="355.5" r="3.0"/>
</g>
</svg>
</body></html>
